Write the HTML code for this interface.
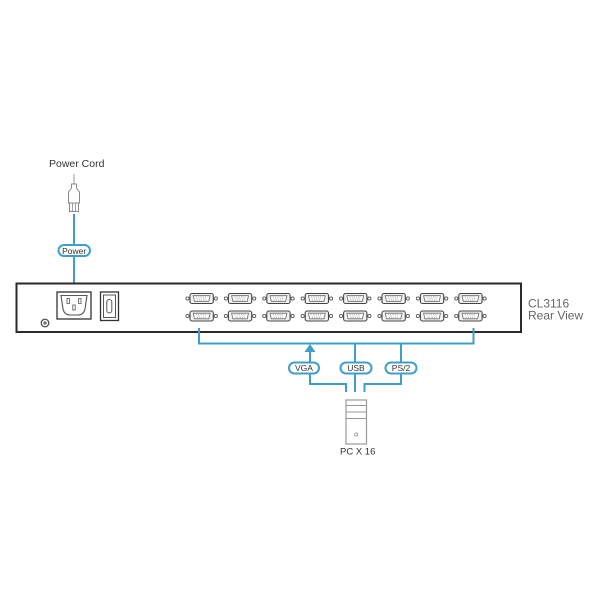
<!DOCTYPE html>
<html><head><meta charset="utf-8"><style>
html,body{margin:0;padding:0;background:#fff;}
svg{display:block;}
text{font-family:"Liberation Sans",Arial,sans-serif;}
</style></head><body>
<svg width="600" height="600" viewBox="0 0 600 600" xmlns="http://www.w3.org/2000/svg">
<defs>
<g id="vga">
  <circle cx="-2.5" cy="5" r="1.6" fill="#fff" stroke="#555" stroke-width="0.9"/>
  <circle cx="25.8" cy="5" r="1.6" fill="#fff" stroke="#555" stroke-width="0.9"/>
  <rect x="0" y="0" width="23.3" height="10" rx="2" fill="#f2f2f2" stroke="#444" stroke-width="1.1"/>
  <path d="M3.2,2.2 L20.1,2.2 L18.8,7.8 L4.5,7.8 Z" fill="#fff" stroke="#666" stroke-width="0.8"/>
  <g stroke="#888" stroke-width="0.6">
    <line x1="6" y1="3.6" x2="17.3" y2="3.6" stroke-dasharray="1,1.2"/>
    <line x1="6.5" y1="5" x2="16.8" y2="5" stroke-dasharray="1,1.2"/>
    <line x1="7" y1="6.4" x2="16.3" y2="6.4" stroke-dasharray="1,1.2"/>
  </g>
</g>
</defs>

<!-- Power Cord label -->
<text x="49" y="167" font-size="10.5" fill="#333">Power Cord</text>
<!-- plug -->
<line x1="74" y1="174" x2="74" y2="184" stroke="#999" stroke-width="1"/>
<path d="M71.5,184 L76.5,184 L76.5,188 L79.5,192 L79.5,203 L68.5,203 L68.5,192 L71.5,188 Z" fill="#fff" stroke="#888" stroke-width="1"/>
<rect x="69.5" y="203" width="9" height="8.5" fill="#fff" stroke="#888" stroke-width="1"/>
<line x1="72.5" y1="203" x2="72.5" y2="211.5" stroke="#888" stroke-width="0.8"/>
<line x1="75.5" y1="203" x2="75.5" y2="211.5" stroke="#888" stroke-width="0.8"/>

<!-- power blue line -->
<line x1="74" y1="214" x2="74" y2="284" stroke="#3e9fcb" stroke-width="2"/>
<rect x="58.5" y="245" width="31.5" height="11" rx="5.5" fill="#fff" stroke="#3e9fcb" stroke-width="2"/>
<text x="74.2" y="254" font-size="8.5" fill="#333" text-anchor="middle">Power</text>

<!-- main box -->
<rect x="16.5" y="283.5" width="504.5" height="48.5" fill="#fff" stroke="#2a2a2a" stroke-width="2"/>

<!-- power inlet -->
<rect x="57" y="292" width="34" height="27" fill="#fff" stroke="#333" stroke-width="1.3"/>
<path d="M61,295.5 L87,295.5 L85,309 Q83.5,315 78,315 L70,315 Q64.5,315 63,309 Z" fill="#fff" stroke="#555" stroke-width="1.1"/>
<rect x="67" y="298.5" width="2.4" height="5" fill="#fff" stroke="#555" stroke-width="0.8"/>
<rect x="78.6" y="298.5" width="2.4" height="5" fill="#fff" stroke="#555" stroke-width="0.8"/>
<rect x="72.8" y="305" width="2.4" height="5" fill="#fff" stroke="#555" stroke-width="0.8"/>

<!-- switch -->
<rect x="100.5" y="292" width="18" height="28.5" fill="#fff" stroke="#333" stroke-width="1.3"/>
<rect x="103.5" y="295" width="12" height="22.5" fill="#fff" stroke="#555" stroke-width="1"/>
<rect x="106.8" y="299.5" width="5" height="13.5" rx="2.5" fill="#fff" stroke="#555" stroke-width="1"/>

<!-- screw -->
<circle cx="45" cy="323" r="3.8" fill="#fff" stroke="#444" stroke-width="1.2"/>
<circle cx="45" cy="323" r="1.8" fill="#777"/>

<!-- VGA ports -->
<use href="#vga" x="190" y="293.5"/>
<use href="#vga" x="228.4" y="293.5"/>
<use href="#vga" x="266.8" y="293.5"/>
<use href="#vga" x="305.2" y="293.5"/>
<use href="#vga" x="343.6" y="293.5"/>
<use href="#vga" x="382" y="293.5"/>
<use href="#vga" x="420.4" y="293.5"/>
<use href="#vga" x="458.8" y="293.5"/>
<use href="#vga" x="190" y="311"/>
<use href="#vga" x="228.4" y="311"/>
<use href="#vga" x="266.8" y="311"/>
<use href="#vga" x="305.2" y="311"/>
<use href="#vga" x="343.6" y="311"/>
<use href="#vga" x="382" y="311"/>
<use href="#vga" x="420.4" y="311"/>
<use href="#vga" x="458.8" y="311"/>

<!-- CL3116 label -->
<text x="528" y="307.5" font-size="12" fill="#666">CL3116</text>
<text x="528" y="319.5" font-size="12" fill="#666">Rear View</text>

<!-- bracket -->
<g stroke="#3e9fcb" stroke-width="2" fill="none">
  <path d="M199,328 L199,343.5 L473.5,343.5 L473.5,328"/>
  <line x1="310" y1="350" x2="310" y2="362.5"/>
  <line x1="355" y1="343.5" x2="355" y2="362.5"/>
  <line x1="401" y1="343.5" x2="401" y2="362.5"/>
  <path d="M310,373 L310,384 L346,384 L346,392"/>
  <line x1="355" y1="373" x2="355" y2="392"/>
  <path d="M401,373 L401,384 L364.5,384 L364.5,392"/>
</g>
<path d="M310,344 L315.5,352 L304.5,352 Z" fill="#3e9fcb"/>

<!-- pills -->
<rect x="289" y="362.5" width="30" height="11" rx="5.5" fill="#fff" stroke="#3e9fcb" stroke-width="2"/>
<text x="304" y="371.2" font-size="8.5" fill="#333" text-anchor="middle">VGA</text>
<rect x="340.5" y="362.5" width="31" height="11" rx="5.5" fill="#fff" stroke="#3e9fcb" stroke-width="2"/>
<text x="356" y="371.2" font-size="8.5" fill="#333" text-anchor="middle">USB</text>
<rect x="385.5" y="362.5" width="31" height="11" rx="5.5" fill="#fff" stroke="#3e9fcb" stroke-width="2"/>
<text x="401" y="371.2" font-size="8.5" fill="#333" text-anchor="middle">PS/2</text>

<!-- PC tower -->
<rect x="346" y="400" width="20.5" height="44" fill="#fff" stroke="#999" stroke-width="1.2"/>
<line x1="346" y1="405.5" x2="366.5" y2="405.5" stroke="#999" stroke-width="1"/>
<line x1="346" y1="412" x2="366.5" y2="412" stroke="#999" stroke-width="1"/>
<line x1="346" y1="418.5" x2="366.5" y2="418.5" stroke="#999" stroke-width="1"/>
<circle cx="356.2" cy="434.5" r="1.6" fill="#fff" stroke="#999" stroke-width="0.9"/>

<text x="340" y="454.5" font-size="9.5" fill="#333">PC X 16</text>
</svg>
</body></html>
